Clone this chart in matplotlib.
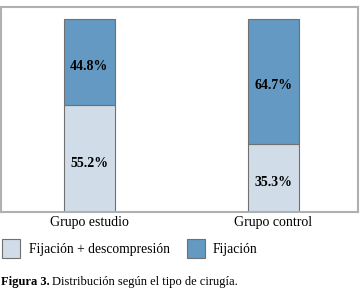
import matplotlib.pyplot as plt
import numpy as np

groups = ['Grupo estudio', 'Grupo control']
fij_desc = [55.2, 35.3]
fij = [44.8, 64.7]
series_labels = ['Fijación + descompresión', 'Fijación']
colors = ['#d0dde9', '#6399c2']

plt.rcParams['font.family'] = ['Liberation Serif', 'DejaVu Serif']

fig = plt.figure(figsize=(3.61, 2.90), dpi=100)
ax = fig.add_axes([1 / 361, 78 / 290, 357 / 361, 205 / 290])

x = np.arange(len(groups))
w = 0.276
b1 = ax.bar(x, fij_desc, w, color=colors[0], edgecolor='#707070', linewidth=0.8,
            label=series_labels[0])
b2 = ax.bar(x, fij, w, bottom=fij_desc, color=colors[1], edgecolor='#707070', linewidth=0.8,
            label=series_labels[1])

for bars, vals, base in [(b1, fij_desc, [0, 0]), (b2, fij, fij_desc)]:
    for bar, v, b in zip(bars, vals, base):
        ax.text(bar.get_x() + bar.get_width() / 2, b + v / 2 - 2.3, f'{v:.1f}%',
                ha='center', va='center', fontsize=10, fontweight='bold')

ax.set_xlim(-0.48, 1.46)
ax.set_ylim(0, 106.2)
ax.set_yticks([])
ax.set_xticks(x)
ax.set_xticklabels(groups, fontsize=10)
ax.tick_params(axis='x', length=0, pad=3)
for s in ax.spines.values():
    s.set_color('#b0b0b0')
    s.set_linewidth(1.5)

leg = fig.legend(handles=[b1, b2], labels=series_labels, loc='upper left',
                 bbox_to_anchor=(2 / 361, 1 - 239 / 290), ncol=2, frameon=False,
                 fontsize=9.8, handlelength=1.35, handleheight=1.75, handletextpad=0.6,
                 columnspacing=1.25, borderpad=0, borderaxespad=0)

t1 = fig.text(1 / 361, 1 - 282 / 290, 'Figura 3.', fontsize=9, fontweight='bold', va='center')
fig.canvas.draw()
bb = t1.get_window_extent()
fig.text((bb.x1 + 2) / 361, 1 - 282 / 290, 'Distribución según el tipo de cirugía.',
         fontsize=9, va='center')

fig.savefig('out.png', dpi=100)
